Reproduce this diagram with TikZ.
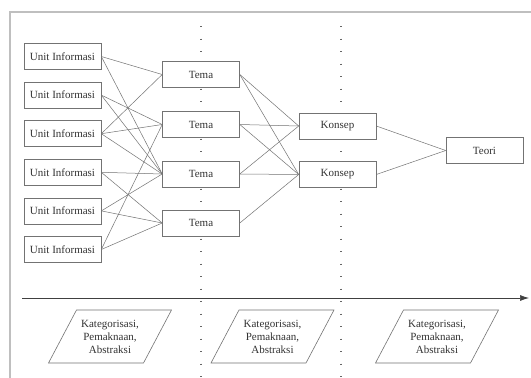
\documentclass[tikz,border=0pt]{standalone}
\usepackage{fontspec}
\setmainfont{Liberation Serif}
\usetikzlibrary{arrows.meta,calc}
\begin{document}
\begin{tikzpicture}[x=1pt,y=-1pt,
  box/.style={draw=black!55, line width=0.6pt, fill=white, minimum width=77pt, minimum height=26pt, inner sep=0pt, font=\fontsize{11}{13}\selectfont, text=black!80},
  link/.style={draw=black!55, line width=0.5pt},
  guide/.style={draw=black!60, line width=1.1pt, dash pattern=on 1.1pt off 11.4pt},
  frame/.style={draw=black!25, line width=1.5pt},
  para/.style={draw=black!55, line width=0.6pt},
  ptext/.style={align=center, font=\fontsize{11}{13}\selectfont, text=black!80, inner sep=0pt},
  axis/.style={draw=black!75, line width=0.7pt, -{Latex[length=9pt,width=6pt]}}
]
\useasboundingbox (0,0) rectangle (531,378);
\fill[white] (0,0) rectangle (531,378);
% frame
\coordinate (fa) at (10,378);
\coordinate (fb) at (10,12);
\coordinate (fc) at (531,12);
\draw[frame] (fa) -- (fb) -- (fc);
% guides
\coordinate (g1t) at (201,26);
\coordinate (g1b) at (201,378);
\coordinate (g2t) at (341,26);
\coordinate (g2b) at (341,378);
\draw[guide] (g1t) -- (g1b);
\draw[guide] (g2t) -- (g2b);
% axis
\coordinate (ax0) at (22,298);
\coordinate (ax1) at (529,298);
\draw[axis] (ax0) -- (ax1);
% unit boxes
\node[box] (u1) at (62.5,56.5) {Unit Informasi};
\node[box] (u2) at (62.5,95.1) {Unit Informasi};
\node[box] (u3) at (62.5,133.7) {Unit Informasi};
\node[box] (u4) at (62.5,172.3) {Unit Informasi};
\node[box] (u5) at (62.5,210.9) {Unit Informasi};
\node[box] (u6) at (62.5,249.5) {Unit Informasi};
% tema
\node[box] (t1) at (201,74.5) {Tema};
\node[box] (t2) at (201,124.5) {Tema};
\node[box] (t3) at (201,174) {Tema};
\node[box] (t4) at (201,223) {Tema};
% konsep
\node[box] (k1) at (337.5,126) {Konsep};
\node[box] (k2) at (337.5,174.5) {Konsep};
% teori
\node[box] (te) at (484.5,150.5) {Teori};
% links unit -> tema
\draw[link] (u1.east) -- (t1.west);
\draw[link] (u1.east) -- (t3.west);
\draw[link] (u2.east) -- (t2.west);
\draw[link] (u2.east) -- (t3.west);
\draw[link] (u3.east) -- (t1.west);
\draw[link] (u3.east) -- (t2.west);
\draw[link] (u3.east) -- (t3.west);
\draw[link] (u4.east) -- (t3.west);
\draw[link] (u4.east) -- (t4.west);
\draw[link] (u5.east) -- (t3.west);
\draw[link] (u5.east) -- (t4.west);
\draw[link] (u6.east) -- (t2.west);
\draw[link] (u6.east) -- (t4.west);
% tema -> konsep
\draw[link] (t1.east) -- (k1.west);
\draw[link] (t1.east) -- (k2.west);
\draw[link] (t2.east) -- (k1.west);
\draw[link] (t2.east) -- (k2.west);
\draw[link] (t3.east) -- (k1.west);
\draw[link] (t3.east) -- (k2.west);
\draw[link] (t4.east) -- (k2.west);
% konsep -> teori
\draw[link] (k1.east) -- (te.west);
\draw[link] (k2.east) -- (te.west);
% parallelograms
\foreach \n/\cx/\cy in {p1/110/336.5, p2/272.5/336.5, p3/437/336.5}{
  \node[ptext] (\n) at (\cx,\cy) {Kategorisasi,\\Pemaknaan,\\Abstraksi};
  \draw[para] ($(\n.center)+(-33.5,-26.5)$) -- ($(\n.center)+(61.5,-26.5)$) -- ($(\n.center)+(33.5,26.5)$) -- ($(\n.center)+(-61.5,26.5)$) -- cycle;
}
\end{tikzpicture}
\end{document}
